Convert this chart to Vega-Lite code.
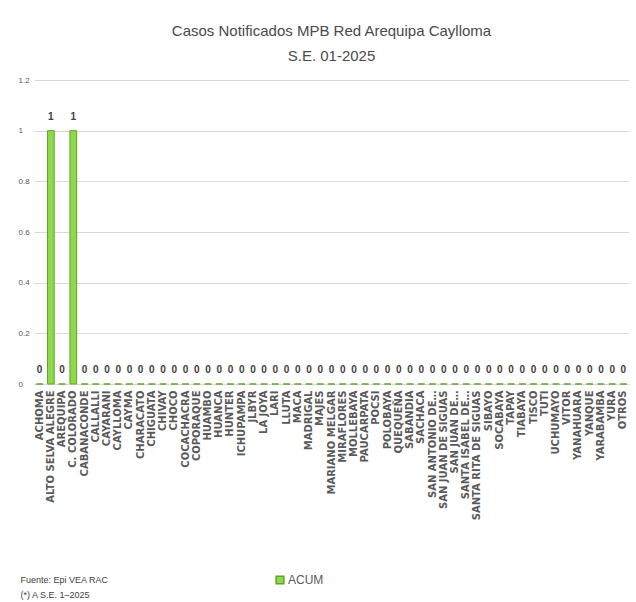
{
  "$schema": "https://vega.github.io/schema/vega-lite/v6.json",
  "autosize": {"type": "none"},
  "width": 595,
  "height": 304,
  "padding": {"left": 34, "top": 80, "right": 7, "bottom": 218},
  "background": "white",
  "title": {
    "text": "Casos  Notificados MPB Red Arequipa Caylloma",
    "subtitle": "S.E. 01-2025",
    "anchor": "middle",
    "font": "Liberation Sans",
    "fontSize": 15,
    "fontWeight": "normal",
    "color": "#4a4a4a",
    "subtitleFont": "Liberation Sans",
    "subtitleFontSize": 15,
    "subtitleColor": "#4a4a4a",
    "subtitlePadding": 10,
    "offset": 12
  },
  "data": {
    "values": [
      {"distrito": "ACHOMA", "casos": 0, "serie": "ACUM"},
      {"distrito": "ALTO SELVA ALEGRE", "casos": 1, "serie": "ACUM"},
      {"distrito": "AREQUIPA", "casos": 0, "serie": "ACUM"},
      {"distrito": "C. COLORADO", "casos": 1, "serie": "ACUM"},
      {"distrito": "CABANACONDE", "casos": 0, "serie": "ACUM"},
      {"distrito": "CALLALLI", "casos": 0, "serie": "ACUM"},
      {"distrito": "CAYARANI", "casos": 0, "serie": "ACUM"},
      {"distrito": "CAYLLOMA", "casos": 0, "serie": "ACUM"},
      {"distrito": "CAYMA", "casos": 0, "serie": "ACUM"},
      {"distrito": "CHARACATO", "casos": 0, "serie": "ACUM"},
      {"distrito": "CHIGUATA", "casos": 0, "serie": "ACUM"},
      {"distrito": "CHIVAY", "casos": 0, "serie": "ACUM"},
      {"distrito": "CHOCO", "casos": 0, "serie": "ACUM"},
      {"distrito": "COCACHACRA", "casos": 0, "serie": "ACUM"},
      {"distrito": "COPORAQUE", "casos": 0, "serie": "ACUM"},
      {"distrito": "HUAMBO", "casos": 0, "serie": "ACUM"},
      {"distrito": "HUANCA", "casos": 0, "serie": "ACUM"},
      {"distrito": "HUNTER", "casos": 0, "serie": "ACUM"},
      {"distrito": "ICHUPAMPA", "casos": 0, "serie": "ACUM"},
      {"distrito": "JLBYR", "casos": 0, "serie": "ACUM"},
      {"distrito": "LA JOYA", "casos": 0, "serie": "ACUM"},
      {"distrito": "LARI", "casos": 0, "serie": "ACUM"},
      {"distrito": "LLUTA", "casos": 0, "serie": "ACUM"},
      {"distrito": "MACA", "casos": 0, "serie": "ACUM"},
      {"distrito": "MADRIGAL", "casos": 0, "serie": "ACUM"},
      {"distrito": "MAJES", "casos": 0, "serie": "ACUM"},
      {"distrito": "MARIANO MELGAR", "casos": 0, "serie": "ACUM"},
      {"distrito": "MIRAFLORES", "casos": 0, "serie": "ACUM"},
      {"distrito": "MOLLEBAYA", "casos": 0, "serie": "ACUM"},
      {"distrito": "PAUCARPATA", "casos": 0, "serie": "ACUM"},
      {"distrito": "POCSI", "casos": 0, "serie": "ACUM"},
      {"distrito": "POLOBAYA", "casos": 0, "serie": "ACUM"},
      {"distrito": "QUEQUEÑA", "casos": 0, "serie": "ACUM"},
      {"distrito": "SABANDIA", "casos": 0, "serie": "ACUM"},
      {"distrito": "SACHACA", "casos": 0, "serie": "ACUM"},
      {"distrito": "SAN ANTONIO DE…", "casos": 0, "serie": "ACUM"},
      {"distrito": "SAN JUAN DE SIGUAS", "casos": 0, "serie": "ACUM"},
      {"distrito": "SAN JUAN DE…", "casos": 0, "serie": "ACUM"},
      {"distrito": "SANTA ISABEL DE…", "casos": 0, "serie": "ACUM"},
      {"distrito": "SANTA RITA DE SIGUAS", "casos": 0, "serie": "ACUM"},
      {"distrito": "SIBAYO", "casos": 0, "serie": "ACUM"},
      {"distrito": "SOCABAYA", "casos": 0, "serie": "ACUM"},
      {"distrito": "TAPAY", "casos": 0, "serie": "ACUM"},
      {"distrito": "TIABAYA", "casos": 0, "serie": "ACUM"},
      {"distrito": "TISCO", "casos": 0, "serie": "ACUM"},
      {"distrito": "TUTI", "casos": 0, "serie": "ACUM"},
      {"distrito": "UCHUMAYO", "casos": 0, "serie": "ACUM"},
      {"distrito": "VITOR", "casos": 0, "serie": "ACUM"},
      {"distrito": "YANAHUARA", "casos": 0, "serie": "ACUM"},
      {"distrito": "YANQUE", "casos": 0, "serie": "ACUM"},
      {"distrito": "YARABAMBA", "casos": 0, "serie": "ACUM"},
      {"distrito": "YURA", "casos": 0, "serie": "ACUM"},
      {"distrito": "OTROS", "casos": 0, "serie": "ACUM"}
    ]
  },
  "encoding": {
    "x": {
      "field": "distrito",
      "type": "nominal",
      "sort": null,
      "scale": {"paddingInner": 0.4, "paddingOuter": 0.2},
      "axis": {
        "title": ["Fuente: Epi VEA RAC", "(*) A S.E. 1–2025"],
        "titleFont": "Liberation Sans",
        "titleFontSize": 9,
        "titleFontWeight": "normal",
        "titleColor": "#404040",
        "titleAnchor": "start",
        "titleAlign": "left",
        "titleBaseline": "top",
        "titleX": -14,
        "titleY": 191,
        "titleLineHeight": 15,
        "labelAngle": -90,
        "labelFont": "DejaVu Sans",
        "labelFontWeight": "bold",
        "labelFontSize": 10,
        "labelColor": "#595959",
        "labelPadding": 6,
        "labelOverlap": false,
        "labelLimit": 0,
        "ticks": false,
        "domain": true,
        "domainColor": "#d9d9d9"
      }
    },
    "y": {
      "field": "casos",
      "type": "quantitative",
      "scale": {"domain": [0, 1.2], "nice": false},
      "axis": {
        "title": null,
        "values": [0, 0.2, 0.4, 0.6, 0.8, 1, 1.2],
        "format": "~g",
        "labelFont": "Liberation Sans",
        "labelFontSize": 8,
        "labelColor": "#595959",
        "labelAlign": "left",
        "labelPadding": 16,
        "ticks": false,
        "domain": false,
        "grid": true,
        "gridColor": "#d9d9d9"
      }
    }
  },
  "layer": [
    {
      "mark": {"type": "bar", "stroke": "#5FA52A", "strokeWidth": 1},
      "encoding": {
        "color": {
          "field": "serie",
          "type": "nominal",
          "scale": {"range": ["#8FD84A"]},
          "legend": {
            "title": null,
            "orient": "none",
            "legendX": 240,
            "legendY": 494,
            "symbolType": "square",
            "symbolSize": 60,
            "labelFont": "Liberation Sans",
            "labelFontSize": 12,
            "labelColor": "#595959",
            "labelOffset": 2
          }
        }
      }
    },
    {
      "mark": {
        "type": "text",
        "baseline": "bottom",
        "dy": -9,
        "font": "Liberation Sans",
        "fontSize": 10,
        "fontWeight": "bold",
        "color": "#404040"
      },
      "encoding": {"text": {"field": "casos", "type": "quantitative"}}
    }
  ],
  "config": {"view": {"stroke": null}}
}
